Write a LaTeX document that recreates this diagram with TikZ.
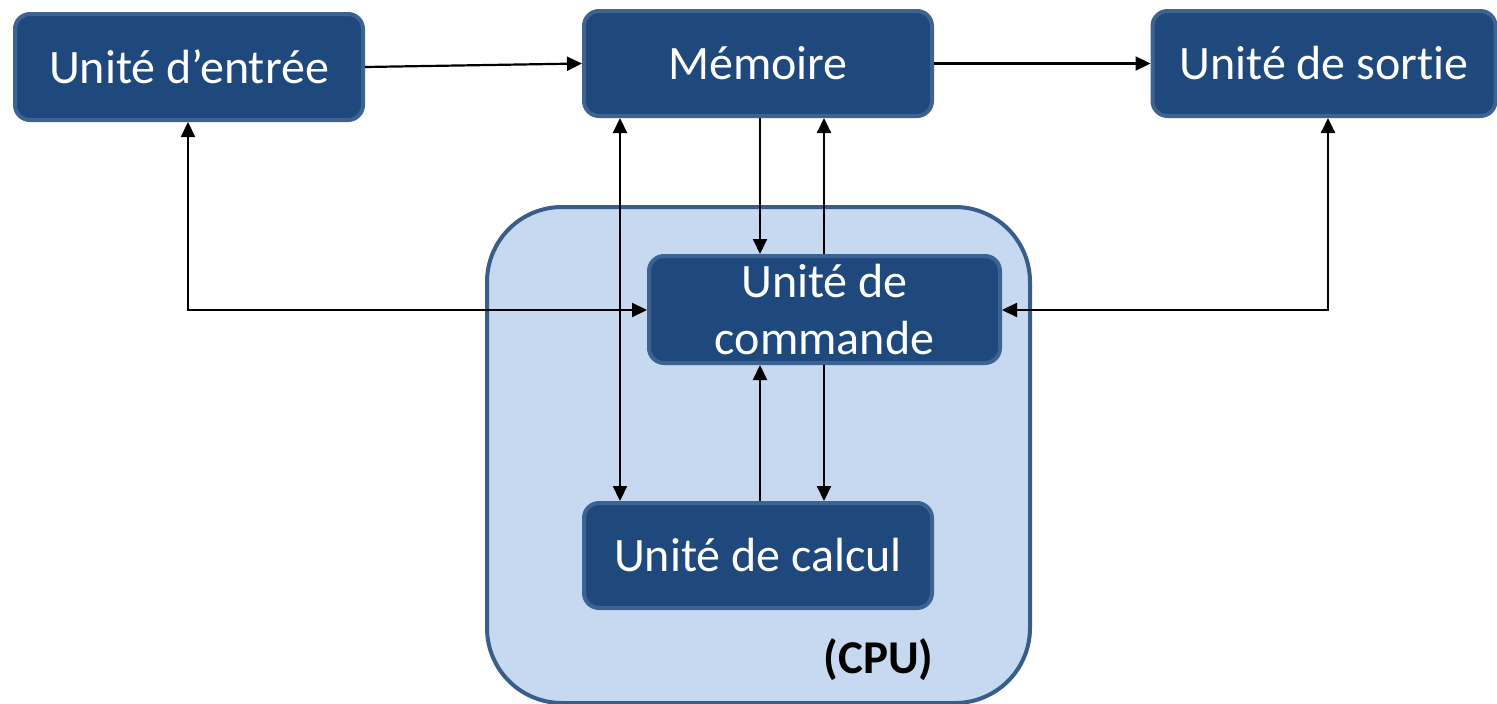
\documentclass[tikz,border=0pt]{standalone}
\usepackage{fontspec}
\setmainfont{Carlito}[Ligatures=NoCommon]
\usetikzlibrary{arrows.meta}
\definecolor{boxfill}{HTML}{1F497D}
\definecolor{boxline}{HTML}{3C6391}
\definecolor{cpufill}{HTML}{C6D9F0}
\definecolor{cpuline}{HTML}{385D8A}
\tikzset{
  unitbox/.style={rectangle, rounded corners=15pt, fill=boxfill, draw=boxline, line width=4pt,
    text=white, font=\fontsize{48}{57}\selectfont, inner sep=0pt, align=center},
  conn/.style={line width=2.2pt, draw=black},
  tip/.style={-{Triangle[length=15pt,width=14pt]}},
  tips/.style={{Triangle[length=15pt,width=14pt]}-{Triangle[length=15pt,width=14pt]}},
}
\begin{document}
\begin{tikzpicture}[x=1pt,y=-1pt]
\useasboundingbox (0,0) rectangle (1497,704);
% CPU
\node[draw=cpuline, fill=cpufill, line width=4pt, rounded corners=75pt,
  minimum width=543pt, minimum height=496pt, inner sep=0pt] (cpu) at (758.5,455) {};
\node[anchor=east, font=\fontsize{47}{57}\selectfont\bfseries, text=black] (cpul) at (937,660) {(CPU)};
% units
\node[unitbox, minimum width=348pt, minimum height=106pt] (ent) at (189,67) {Unité d’entrée};
\node[unitbox, minimum width=348pt, minimum height=105pt] (mem) at (758,63.5) {Mémoire};
\node[unitbox, minimum width=343pt, minimum height=105pt] (sor) at (1324,63.5) {Unité de sortie};
\node[unitbox, minimum width=351pt, minimum height=107pt] (cmd) at (824.5,309.5) {Unité de\\commande};
\node[unitbox, minimum width=348pt, minimum height=105pt] (cal) at (758,555.5) {Unité de calcul};
% helper coordinates
\coordinate (x188) at (188,0);
\coordinate (x620) at (620,0);
\coordinate (x760) at (760,0);
\coordinate (x824) at (824,0);
\coordinate (x1328) at (1328,0);
\coordinate (cin) at (188,310);
\coordinate (cout) at (1328,310);
% connectors
\draw[conn, tip] (ent.east) -- (mem.west);
\draw[conn, tip] (mem.east) -- (sor.west);
\draw[conn, tips] (mem.south -| x620) -- (cal.north -| x620);
\draw[conn, tip] (mem.south -| x760) -- (cmd.north -| x760);
\draw[conn, tip] (cmd.north -| x824) -- (mem.south -| x824);
\draw[conn, tip] (cal.north -| x760) -- (cmd.south -| x760);
\draw[conn, tip] (cmd.south -| x824) -- (cal.north -| x824);
\draw[conn, tips] (ent.south -| x188) -- (cin) -- (cmd.west |- cin);
\draw[conn, tips] (sor.south -| x1328) -- (cout) -- (cmd.east |- cout);
\end{tikzpicture}
\end{document}
